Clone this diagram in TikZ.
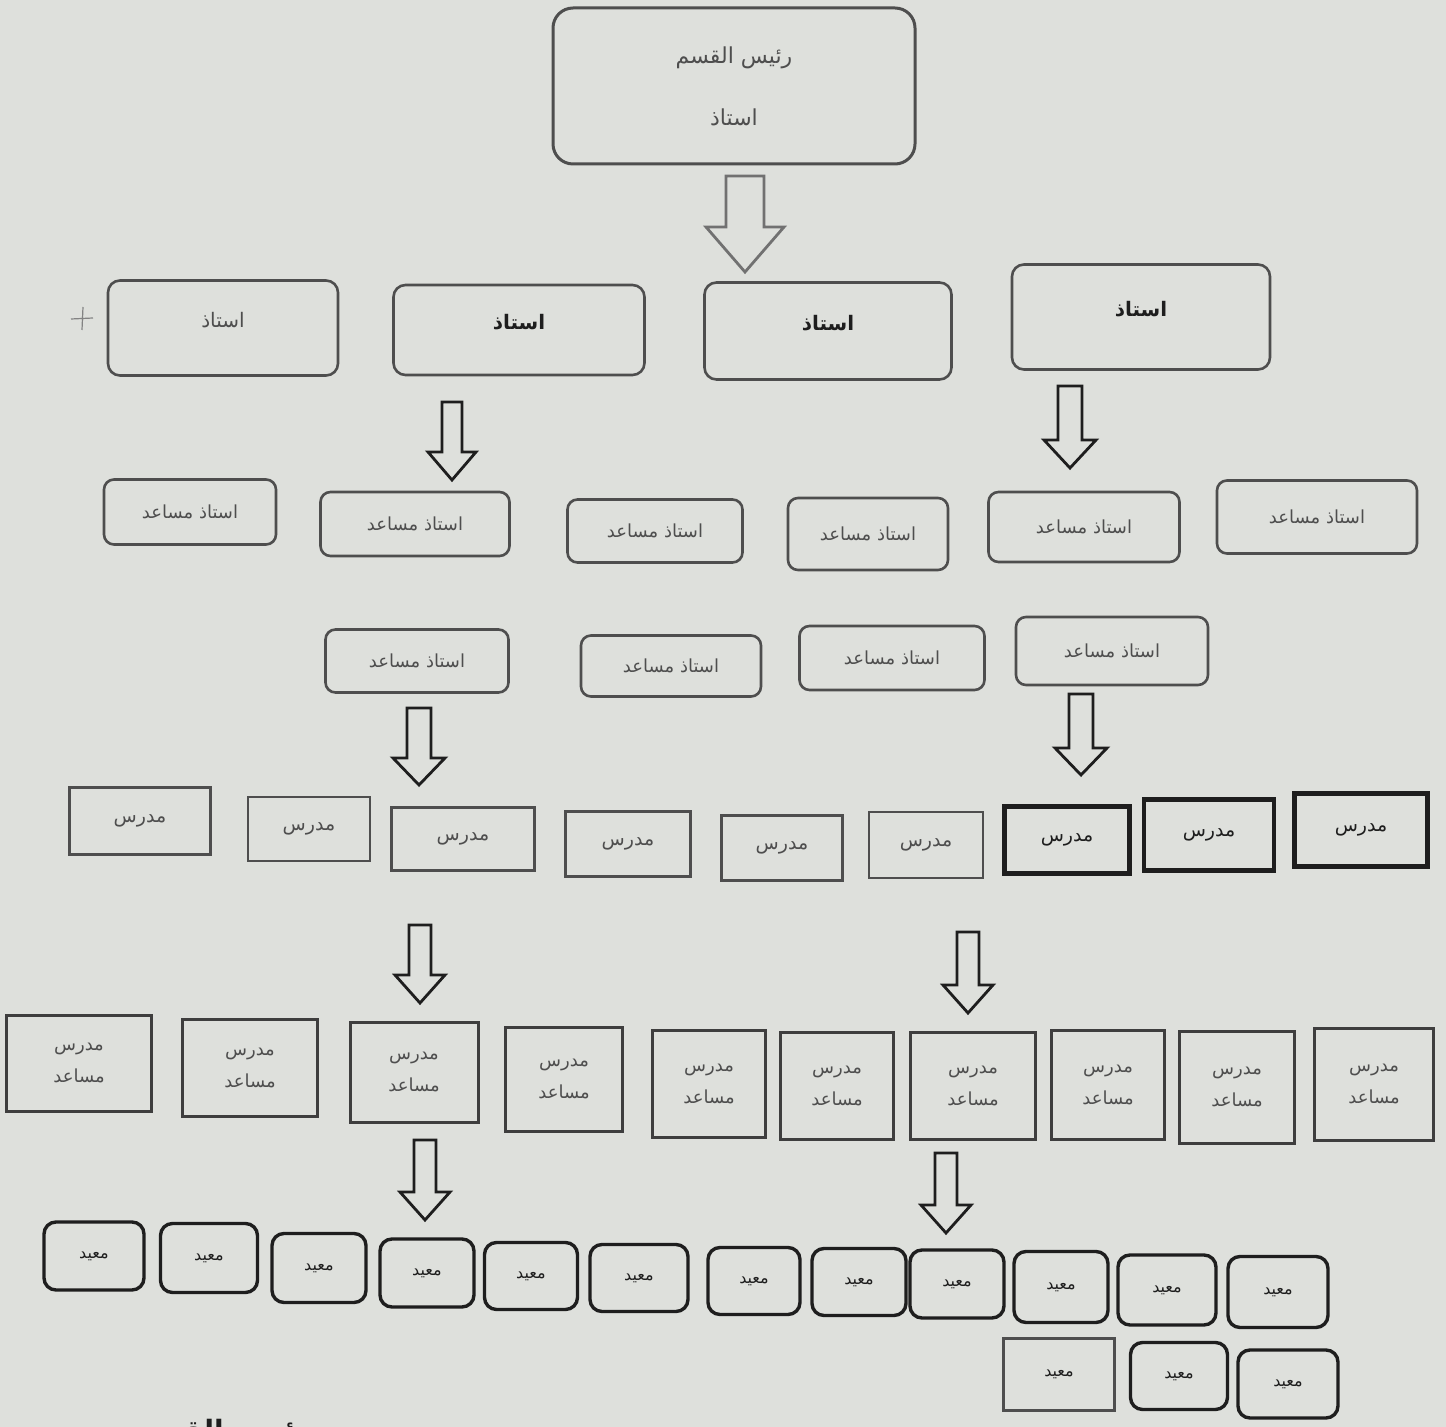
\documentclass[tikz,border=0pt]{standalone}
\usepackage{fontspec}
\usepackage{tikz}
\TeXXeTstate=1
\newfontfamily\arabicfont[Script=Arabic]{DejaVu Sans}
\newcommand{\artext}[1]{\beginR #1\endR}
\definecolor{PaperGray}{RGB}{222,224,220}
\definecolor{InkGray}{RGB}{78,78,78}
\definecolor{InkDark}{RGB}{30,30,30}

\tikzset{
  box/.style n args={2}{draw=InkGray,line width=1.3pt,inner sep=0pt,
    minimum width=#1*0.5pt,minimum height=#2*0.5pt,text=InkGray,
    font=\arabicfont\fontsize{9}{11}\selectfont},
  prof/.style n args={2}{box={#1}{#2},rounded corners=6pt,text depth=8pt,
    font=\arabicfont\fontsize{10}{12}\selectfont},
  asst/.style n args={2}{box={#1}{#2},rounded corners=5pt},
  lect/.style n args={2}{box={#1}{#2},font=\arabicfont\fontsize{9.5}{12}\selectfont},
  alect/.style n args={2}{box={#1}{#2},align=center,draw=InkGray!80!black,line width=1.5pt,
    font=\arabicfont\fontsize{9}{16}\selectfont},
  demo/.style n args={2}{box={#1}{#2},draw=InkDark,line width=1.7pt,
    rounded corners=6pt,text=InkDark,font=\arabicfont\fontsize{8}{10}\selectfont},
  hollow/.style={draw=InkDark,line width=1.4pt,line join=miter,fill=PaperGray}
}

\begin{document}
\begin{tikzpicture}[x=0.5pt,y=-0.5pt]
\fill[PaperGray] (0,0) rectangle (1446,1427);
\useasboundingbox (0,0) rectangle (1446,1427);
% head of department
\node[box={362}{156},rounded corners=10pt,line width=1.5pt,align=center,
   font=\arabicfont\fontsize{11}{31}\selectfont] (hod) at (734,86)
   {\artext{رئيس القسم}\\\artext{استاذ}};
% professors
\node[prof={230}{95}] (p1) at (223,328) {\artext{استاذ}};
\foreach \x/\y/\w/\h [count=\i from 2] in %
{519/330/251/90,828/331/247/97,1141/317/258/105} {
   \node[prof={\w}{\h},text=InkDark,font=\arabicfont\bfseries\fontsize{10}{12}\selectfont] (p\i) at (\x,\y) {\artext{استاذ}};
}
\draw[InkGray!70,line width=0.6pt] (71,319) -- (93,318) (83,307) -- (82,330);
% assistant professors
\foreach \x/\y/\w/\h [count=\i] in %
{190/512/172/65,415/524/189/64,655/531/175/63,868/534/160/72,1084/527/191/70,1317/517/200/73,
 417/661/183/63,671/666/180/61,892/658/185/64,1112/651/192/68} {
   \node[asst={\w}{\h}] (ap\i) at (\x,\y) {\artext{استاذ مساعد}};
}
% lecturers
\foreach \x/\y/\w/\h [count=\i] in %
{140/821/141/67,309/829/122/64,463/839/143/63,628/844/125/65,782/848/121/65,926/845/114/66} {
   \node[lect={\w}{\h}] (l\i) at (\x,\y) {\artext{مدرس}};
}
\foreach \x/\y/\w/\h [count=\i from 7] in %
{1067/840/125/67,1209/835/130/71,1361/830/133/73} {
   \node[lect={\w}{\h},draw=InkDark,line width=2.4pt,text=InkDark] (l\i) at (\x,\y) {\artext{مدرس}};
}
% assistant lecturers
\foreach \x/\y/\w/\h [count=\i] in %
{79/1063/145/96,250/1068/135/97,414/1072/128/100,564/1079/117/104,709/1084/113/107,
 837/1086/113/107,973/1086/125/107,1108/1085/113/109,1237/1087/115/112,1374/1084/119/112} {
   \node[alect={\w}{\h}] (al\i) at (\x,\y) {\artext{مدرس}\\\artext{مساعد}};
}
% demonstrators
\foreach \x/\y/\w/\h [count=\i] in %
{94/1256/100/68,209/1258/97/69,319/1268/94/69,427/1273/94/68,531/1276/93/67,639/1278/98/67,
 754/1281/92/67,859/1282/94/67,957/1284/94/68,1061/1287/94/71,1167/1290/98/70,1278/1292/100/71,
 1179/1376/97/67,1288/1384/100/68} {
   \node[demo={\w}{\h}] (d\i) at (\x,\y) {\artext{معيد}};
}
\node[demo={111}{72},rounded corners=0pt,draw=InkGray,line width=1.5pt] (d15) at (1059,1374) {\artext{معيد}};
% hollow arrows
\foreach \ax/\ya/\yb/\yc/\sw/\hw in %
{452/402/452/480/10/24,1070/386/440/468/12/26,
 419/708/758/785/12/26,1081/694/748/775/12/26,420/925/975/1003/11/25,
 968/932/985/1013/11/25,425/1140/1192/1220/11/25,946/1153/1205/1233/11/25} {
   \draw[hollow] (\ax-\sw,\ya) -- (\ax+\sw,\ya) -- (\ax+\sw,\yb) -- (\ax+\hw,\yb)
      -- (\ax,\yc) -- (\ax-\hw,\yb) -- (\ax-\sw,\yb) -- cycle;
}
\draw[hollow,draw=InkGray!80] (726,176) -- (764,176) -- (764,227) -- (784,227)
   -- (745,272) -- (706,227) -- (726,227) -- cycle;
% caption cut by the page edge
\node[anchor=base,text=InkDark,font=\arabicfont\bfseries\fontsize{14}{16}\selectfont]
   (cap) at (222,1440) {\artext{رئيس القسم}};
\end{tikzpicture}
\end{document}
